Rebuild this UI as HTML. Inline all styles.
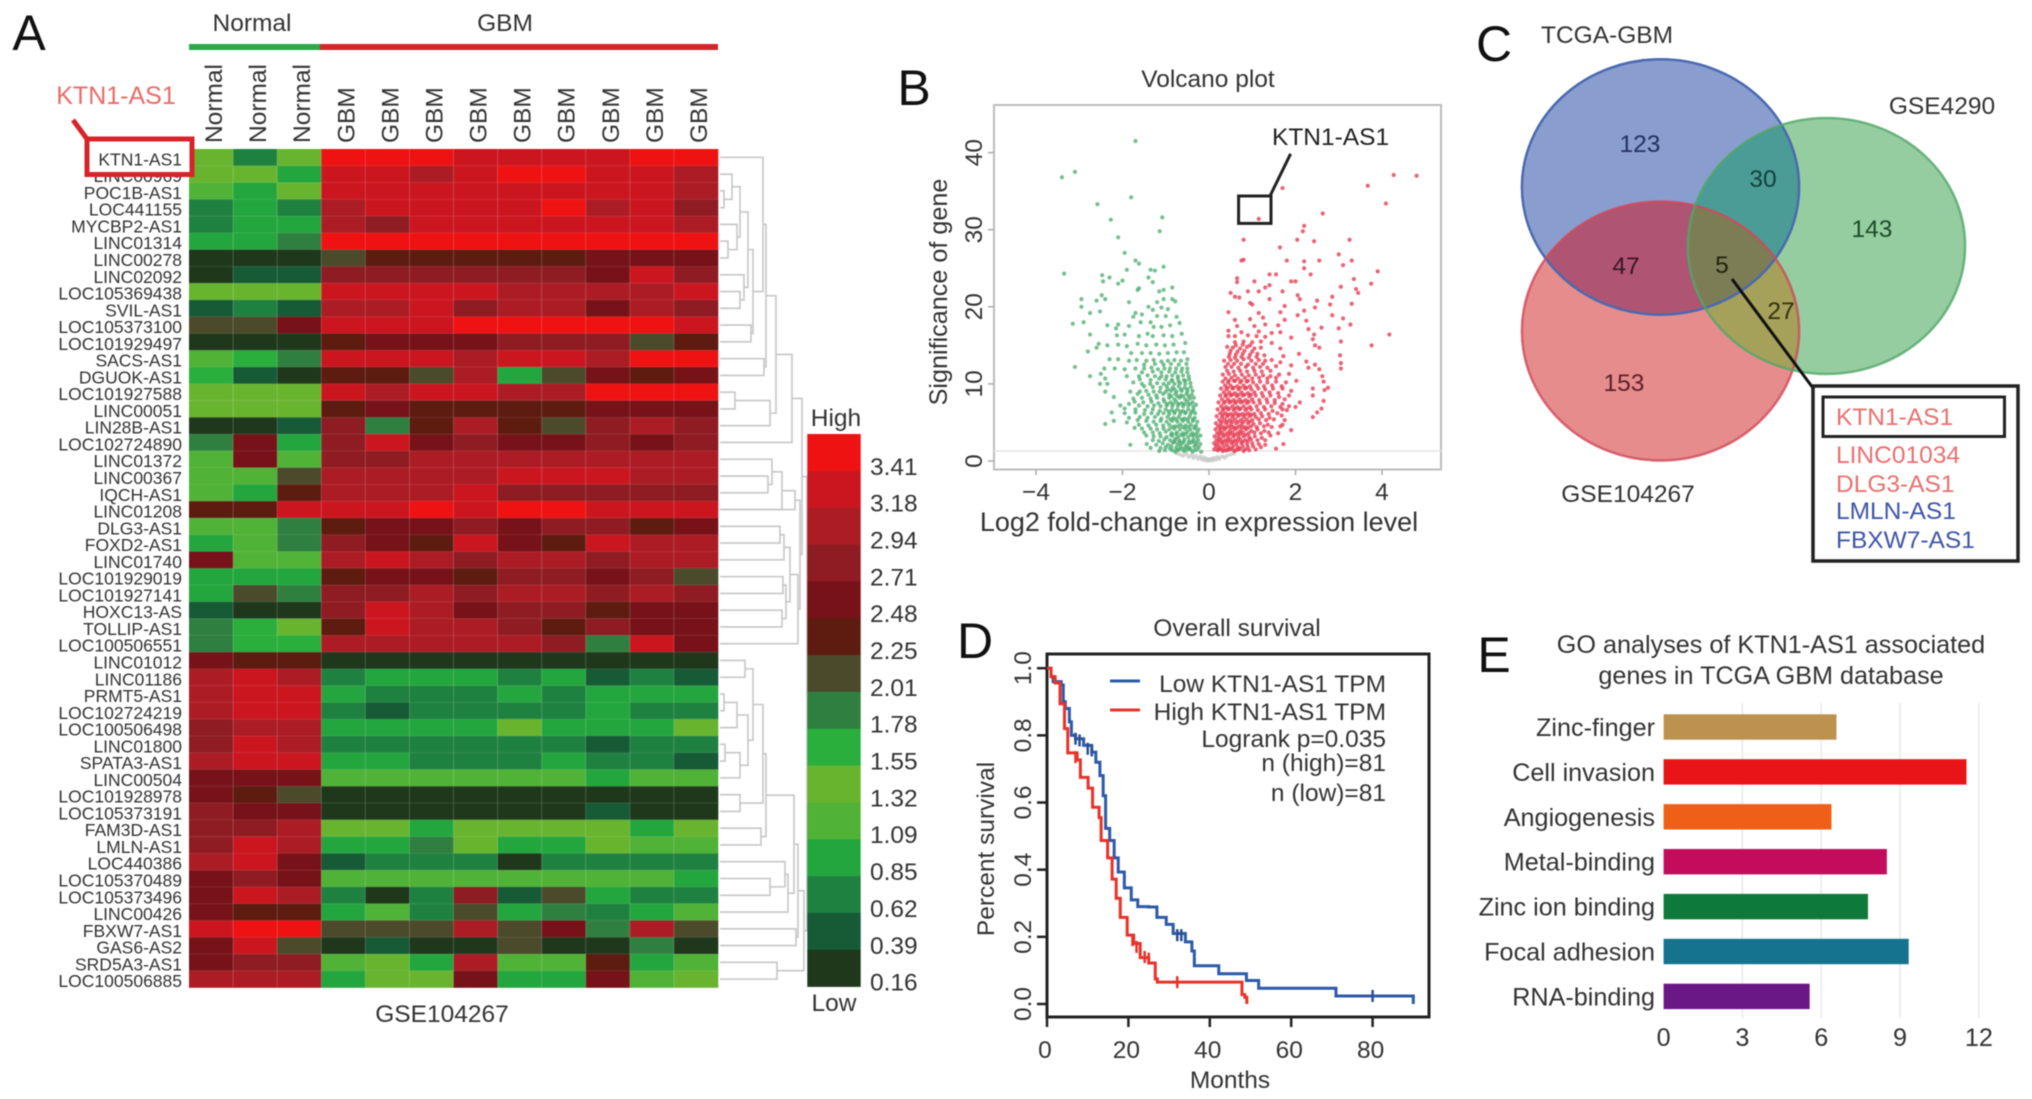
<!DOCTYPE html>
<html lang="en">
<head>
<meta charset="utf-8">
<title>KTN1-AS1 figure</title>
<style>
html,body{margin:0;padding:0;background:#fff;width:2032px;height:1099px;overflow:hidden}
svg{display:block;filter:blur(0.6px)}
text{font-family:"Liberation Sans",sans-serif;font-size:24.5px;fill:#333}
.letter{font-size:50px;fill:#111}
#panelE text{font-size:25.2px}
</style>
</head>
<body>
<svg id="fig" xmlns="http://www.w3.org/2000/svg" width="2032" height="1099" viewBox="0 0 2032 1099">
<defs>
<clipPath id="clipBlue"><ellipse cx="1660.5" cy="187" rx="138.6" ry="127.7"/></clipPath>
<clipPath id="clipRed"><ellipse cx="1660.5" cy="331" rx="138.6" ry="129.5"/></clipPath>
</defs>
<rect width="2032" height="1099" fill="#fff"/>

<text class="letter" x="29" y="50" text-anchor="middle">A</text>
<text class="letter" x="914" y="105" text-anchor="middle">B</text>
<text class="letter" x="1494" y="61" text-anchor="middle">C</text>
<text class="letter" x="975" y="658" text-anchor="middle">D</text>
<text class="letter" x="1494" y="672" text-anchor="middle">E</text>

<g id="panelA">
<text x="252" y="31" text-anchor="middle">Normal</text>
<text x="505" y="31" text-anchor="middle">GBM</text>
<rect x="189" y="44" width="131" height="6" fill="#2aa84a"/>
<rect x="320" y="44" width="398" height="6" fill="#d8232a"/>
<text x="116" y="104" text-anchor="middle" style="fill:#e86c68;font-size:25px">KTN1-AS1</text>
<line x1="73" y1="120" x2="87" y2="139" stroke="#d8232a" stroke-width="5"/>
<text x="442" y="1022" text-anchor="middle">GSE104267</text>
<text x="836" y="426" text-anchor="middle">High</text>
<text x="834" y="1011" text-anchor="middle">Low</text>
</g>

<g id="panelB">
<text x="1208" y="87" text-anchor="middle">Volcano plot</text>
<text x="1199" y="531" text-anchor="middle" style="font-size:27px">Log2 fold-change in expression level</text>
<text transform="translate(947,292) rotate(-90)" text-anchor="middle" style="font-size:25.2px">Significance of gene</text>
</g>

<g id="panelC">
<ellipse cx="1660.5" cy="187" rx="138.6" ry="127.7" fill="#8a9dcf"/>
<ellipse cx="1660.5" cy="331" rx="138.6" ry="129.5" fill="#e68c8c"/>
<ellipse cx="1826.5" cy="246" rx="138.6" ry="128" fill="#96cda0"/>
<ellipse cx="1660.5" cy="331" rx="138.6" ry="129.5" fill="#af5573" clip-path="url(#clipBlue)"/>
<ellipse cx="1826.5" cy="246" rx="138.6" ry="128" fill="#4b9b96" clip-path="url(#clipBlue)"/>
<ellipse cx="1826.5" cy="246" rx="138.6" ry="128" fill="#a5a05a" clip-path="url(#clipRed)"/>
<g clip-path="url(#clipBlue)">
<ellipse cx="1826.5" cy="246" rx="138.6" ry="128" fill="#7d7d55" clip-path="url(#clipRed)"/>
</g>
<ellipse cx="1660.5" cy="187" rx="138.6" ry="127.7" fill="none" stroke="#4a6ab0" stroke-width="2.5"/>
<ellipse cx="1660.5" cy="331" rx="138.6" ry="129.5" fill="none" stroke="#d0485a" stroke-opacity=".8" stroke-width="2.5"/>
<ellipse cx="1826.5" cy="246" rx="138.6" ry="128" fill="none" stroke="#50a868" stroke-opacity=".8" stroke-width="2.5"/>
<text x="1607" y="43" text-anchor="middle">TCGA-GBM</text>
<text x="1942" y="114" text-anchor="middle">GSE4290</text>
<text x="1628" y="502" text-anchor="middle">GSE104267</text>
<text x="1640" y="152" text-anchor="middle" style="fill:#22315e">123</text>
<text x="1763" y="187" text-anchor="middle" style="fill:#12403c">30</text>
<text x="1872" y="237" text-anchor="middle" style="fill:#1c4a28">143</text>
<text x="1626" y="274" text-anchor="middle" style="fill:#3a1525">47</text>
<text x="1722" y="273" text-anchor="middle" style="fill:#20220f">5</text>
<text x="1781" y="319" text-anchor="middle" style="fill:#33320f">27</text>
<text x="1624" y="391" text-anchor="middle" style="fill:#5c2028">153</text>
<line x1="1732" y1="279" x2="1813" y2="388" stroke="#111" stroke-width="3"/>
<rect x="1813" y="386" width="205" height="175" fill="#fff" stroke="#222" stroke-width="3.5"/>
<rect x="1823" y="397" width="181.5" height="39.5" fill="#fff" stroke="#222" stroke-width="3"/>
<text x="1836" y="425" style="fill:#e8706e">KTN1-AS1</text>
<text x="1836" y="463" style="fill:#e8706e">LINC01034</text>
<text x="1836" y="492" style="fill:#e8706e">DLG3-AS1</text>
<text x="1836" y="519" style="fill:#3f55a8">LMLN-AS1</text>
<text x="1836" y="548" style="fill:#3f55a8">FBXW7-AS1</text>
</g>

<g id="panelD">
<text x="1237" y="636" text-anchor="middle">Overall survival</text>
<text x="1230" y="1088" text-anchor="middle">Months</text>
<text transform="translate(994,849) rotate(-90)" text-anchor="middle">Percent survival</text>
<rect x="1047" y="654" width="382" height="363" fill="none" stroke="#222" stroke-width="3"/>
<line x1="1110" y1="681" x2="1140" y2="681" stroke="#2c5aa8" stroke-width="3"/>
<line x1="1110" y1="710" x2="1140" y2="710" stroke="#e8322a" stroke-width="3"/>
<text x="1386" y="692" text-anchor="end">Low KTN1-AS1 TPM</text>
<text x="1386" y="720" text-anchor="end">High KTN1-AS1 TPM</text>
<text x="1386" y="747" text-anchor="end">Logrank p=0.035</text>
<text x="1386" y="771" text-anchor="end">n (high)=81</text>
<text x="1386" y="801" text-anchor="end">n (low)=81</text>
</g>

<g id="panelE">
<text x="1771" y="653" text-anchor="middle">GO analyses of KTN1-AS1 associated</text>
<text x="1771" y="684" text-anchor="middle">genes in TCGA GBM database</text>
</g>
</svg>

<script>
/* ---------- Panel A: heatmap data ---------- */
const heatmapGenes = ["KTN1-AS1","LINC00969","POC1B-AS1","LOC441155","MYCBP2-AS1","LINC01314","LINC00278","LINC02092","LOC105369438","SVIL-AS1","LOC105373100","LOC101929497","SACS-AS1","DGUOK-AS1","LOC101927588","LINC00051","LIN28B-AS1","LOC102724890","LINC01372","LINC00367","IQCH-AS1","LINC01208","DLG3-AS1","FOXD2-AS1","LINC01740","LOC101929019","LOC101927141","HOXC13-AS","TOLLIP-AS1","LOC100506551","LINC01012","LINC01186","PRMT5-AS1","LOC102724219","LOC100506498","LINC01800","SPATA3-AS1","LINC00504","LOC101928978","LOC105373191","FAM3D-AS1","LMLN-AS1","LOC440386","LOC105370489","LOC105373496","LINC00426","FBXW7-AS1","GAS6-AS2","SRD5A3-AS1","LOC100506885"];
const heatmapSamples = ["Normal","Normal","Normal","GBM","GBM","GBM","GBM","GBM","GBM","GBM","GBM","GBM"];
const colorbarTicks = [3.41,3.18,2.94,2.71,2.48,2.25,2.01,1.78,1.55,1.32,1.09,0.85,0.62,0.39,0.16];
const heatmapValues = [
[1.32,.62,1.32,3.41,3.41,3.41,3.18,3.18,3.18,3.18,3.41,3.41],
[1.32,1.32,.85,3.18,3.18,2.94,3.18,3.41,3.41,3.18,3.18,2.94],
[1.09,.85,1.32,3.18,3.18,3.18,3.18,3.18,3.18,3.18,3.18,2.94],
[.62,.85,.62,2.94,3.18,3.18,3.18,3.18,3.41,2.94,3.18,2.71],
[.62,.85,.85,2.94,2.71,3.18,3.18,3.18,3.18,3.18,3.18,2.94],
[.85,.85,1.78,3.41,3.41,3.41,3.41,3.41,3.41,3.41,3.41,3.41],
[.16,.16,.16,2.01,2.25,2.25,2.25,2.25,2.25,2.48,2.48,2.48],
[.16,.39,.39,2.71,2.71,2.71,2.71,2.71,2.71,2.48,3.18,2.71],
[1.32,1.32,1.32,3.18,3.18,3.18,3.18,2.94,2.94,2.94,2.94,3.18],
[.39,.62,.39,2.94,2.94,3.18,2.71,2.94,2.94,2.48,2.94,2.71],
[2.01,2.01,2.48,3.18,3.18,3.18,3.41,3.41,3.41,3.41,3.41,3.18],
[.16,.16,.16,2.25,2.48,2.48,2.48,2.71,2.71,2.71,2.01,2.25],
[1.09,1.55,1.78,3.18,3.18,3.18,2.94,3.18,3.18,2.94,3.41,3.41],
[1.55,.39,.16,2.25,2.25,2.01,2.94,.85,2.01,2.48,2.25,2.48],
[1.32,1.32,1.32,3.18,2.94,3.18,3.18,2.94,2.94,3.41,3.41,3.41],
[1.32,1.32,1.32,2.25,2.48,2.25,2.25,2.25,2.25,2.48,2.48,2.48],
[.16,.16,.39,2.71,1.78,2.25,2.94,2.25,2.01,2.71,2.94,2.71],
[1.78,2.48,.85,2.71,3.18,2.48,2.71,2.48,2.48,2.71,2.48,2.71],
[1.09,2.48,1.09,2.71,2.71,2.94,2.94,2.94,2.94,2.94,2.94,2.94],
[1.09,1.09,2.01,2.94,2.94,2.94,2.94,3.18,3.18,3.18,2.94,2.94],
[1.09,.85,2.25,2.94,2.94,2.94,3.18,2.71,2.71,2.71,2.71,2.71],
[2.25,2.25,3.18,3.18,3.18,3.41,3.18,3.41,3.41,3.18,3.18,3.18],
[1.09,1.09,1.78,2.25,2.48,2.48,2.71,2.48,2.71,2.71,2.25,2.48],
[.85,1.09,1.78,2.71,2.48,2.25,3.18,2.48,2.25,3.18,2.94,2.94],
[2.48,1.09,1.09,2.94,3.18,2.94,2.71,2.94,2.94,2.71,2.94,2.94],
[.85,.85,.85,2.25,2.48,2.48,2.25,2.71,2.71,2.48,2.71,2.01],
[.85,2.01,1.78,2.71,2.71,2.94,2.71,2.94,2.94,2.71,2.94,2.71],
[.39,.16,.16,2.71,3.18,2.94,2.48,2.71,2.71,2.25,2.48,2.48],
[1.78,1.55,1.32,2.25,3.18,2.94,2.94,2.71,2.25,2.71,2.48,2.48],
[1.78,1.55,1.55,2.94,2.94,2.94,2.94,2.94,2.71,1.78,3.18,2.48],
[2.48,2.25,2.25,.16,.16,.16,.16,.16,.16,.16,.16,.16],
[2.94,3.18,2.94,.62,.85,.85,.85,.62,.85,.39,.62,.39],
[2.94,3.18,3.18,.85,.62,.62,.62,.85,.62,.85,.85,.85],
[2.94,3.18,3.18,.62,.39,.62,.62,.62,.62,.85,.62,.62],
[2.71,2.94,2.94,.85,.85,.85,.85,1.32,.85,.85,.85,1.32],
[2.71,3.18,2.94,.62,.62,.62,.62,.62,.62,.39,.62,.62],
[2.94,3.18,3.18,.85,.85,.62,.62,.62,.85,.62,.62,.39],
[2.48,2.48,2.48,1.09,1.09,1.09,1.09,1.09,1.09,.85,1.09,1.09],
[2.48,2.25,2.01,.16,.16,.16,.16,.16,.16,.16,.16,.16],
[2.71,2.48,2.48,.16,.16,.16,.16,.16,.16,.39,.16,.16],
[2.71,2.71,2.94,1.32,1.32,.85,1.32,1.32,1.32,1.32,.85,1.32],
[2.71,3.18,2.94,.85,.85,1.78,1.32,.85,.85,1.32,1.09,1.09],
[2.94,3.18,2.48,.39,.62,.62,.62,.16,.62,.62,.62,.62],
[2.48,2.71,2.48,1.09,1.09,1.09,1.09,1.09,1.09,1.09,1.09,.85],
[2.48,3.18,2.94,.62,.16,.62,2.71,.39,2.01,.85,.62,.62],
[2.48,2.25,2.25,.85,1.09,.62,2.01,.85,1.78,.62,.85,1.09],
[3.18,3.41,3.41,2.01,2.01,2.01,2.94,2.01,2.48,1.78,2.94,2.01],
[2.48,3.18,2.01,.16,.39,.16,.16,2.01,.16,.16,1.78,.16],
[2.48,2.71,2.71,1.09,1.32,.85,2.94,1.09,1.09,2.25,.85,1.09],
[2.94,2.94,2.94,.85,1.32,1.32,2.48,.85,.85,2.48,1.09,1.32]
];
const dendrogramTree = [87,
  [82,
    [72,
      [56,
        [46,
          [43,0,[33,[28,[20,[12,1,[4,2,3]],[17,4,[8,5,6]]],[24,7,[20,8,9]]],[31,10,11]]],
          [44,12,13]],
        [50,[15,14,15],16]],
      17],
    [80,
      [75,[62,[52,18,[48,19,20]],21],[9,21,21]],
      [78,[70,[64,[60,22,23],24],[66,[63,25,26],[62,27,28]]],29]]],
  [84,
    [78,
      [74,
        [46,
          [43,[33,[25,30,31],[28,[17,[4,32,33],34],[20,[5,35,36],37]]],[20,38,39]],
          [41,40,41]],
        [68,[65,42,[50,43,44]],45]],
      [76,46,47]],
    [57,48,49]]];

/* ---------- Panel B: volcano data (x = log2 FC, y = significance), flat x,y pairs ---------- */
const volcanoDownPairs = [
-1.7,41.5,-3.1,37.5,-3.4,36.8,-2.58,33.3,-1.8,34.2,-2.27,31.3,-1.08,31.6,-1.14,29.8,-2.1,29,-1.95,27,-3.35,24.3,
-1.7,26,-1.62,25.6,-1.9,24.8,-1.35,24.8,-1.25,24.7,-1.05,25.2,-1.4,23.8,-1.3,23.2,-2.47,24.1,-2.3,23.8,-2.45,23.3,-2,23.4,-2.1,23,-1.62,22.4,-1.65,22.2,-1.05,22.2,-1.15,22,-0.85,22.5,-1.05,21,
-2.6,20.8,-2.48,21.5,-2.4,21,-2.95,21,-2.95,20,-1.85,20.6,-1.2,20.6,-0.85,21,-0.78,20.7,-1.4,20,-1.3,19.6,-1.1,19.9,-0.95,19.7,-2.52,19.4,-2.75,19.2,-1.7,19.2,-1.55,19,-1.75,18.7,-1.2,18.8,-1,18.8,-0.75,18.7,
-3.15,17.8,-2.9,18,-2.35,17.6,-2.1,17.7,-2.15,17.2,-1.85,17.5,-1.58,18,-1.35,18,-1.28,17.4,-1.1,17.4,-0.9,17.6,-0.68,17.9,-2.75,16.4,-2.13,16.3,-1.95,16.4,-1.62,16.2,-1.42,16.5,-1.3,16.2,-1.05,16.3,-0.85,16.2,-0.63,16.5,
-2.55,15.2,-2.35,15,-2.1,15.1,-1.9,14.9,-1.65,15.2,-1.45,15,-1.22,15.1,-1.02,15,-0.82,15.1,-0.55,15.3,-2.8,14.2,-2.6,14.7,-1.8,14,-1.55,14,-1.35,14,-1.15,13.9,-0.95,14,-0.75,14.1,-0.58,14.1,
-2.3,13.2,-2.1,13.2,-1.85,13,-1.67,13.1,-1.45,13,-1.28,13.1,-1.1,12.9,-0.95,13,-0.8,13.1,-0.65,13,-0.5,13.2,-3.1,12.2,-2.42,12,-2.18,12,-1.95,11.9,-1.7,12,-1.5,12,-1.33,12.1,-1.18,11.9,-1.03,12,-0.9,12,-0.76,12,-0.62,12,-0.5,12,
-2.75,11,-2.5,11.3,-2.4,10.7,-1.9,11,-1.62,11,-1.42,11.1,-1.25,11,-1.1,11,-0.98,11,-0.85,11.1,-0.72,11,-0.6,11.1,-0.47,11,-2.52,10,-2.35,10,-1.75,10.2,-1.55,10,-1.36,10,-1.2,10.1,-1.05,10,-0.93,10.1,-0.8,10,-0.67,10.1,-0.55,10,-0.43,10.1,
-2.4,9,-1.82,9,-1.6,9,-1.45,9.1,-1.28,9,-1.14,9,-1,9,-0.88,9.1,-0.75,9,-0.63,9.1,-0.5,9,-0.38,9.1,-2.2,8.3,-1.75,8.1,-1.55,8.2,-1.35,8.1,-1.2,8.2,-1.05,8,-0.92,8.2,-0.8,8,-0.68,8.2,-0.55,8,-0.44,8.1,-0.35,8.2,
-2.05,7.2,-1.85,7.4,-1.62,7.2,-1.42,7.1,-1.27,7.2,-1.12,7.1,-0.98,7.2,-0.85,7.1,-0.72,7.2,-0.6,7.1,-0.48,7.2,-0.36,7,-0.3,7.3,-2.25,6.3,-1.95,6.2,-1.7,6.3,-1.5,6.1,-1.33,6.2,-1.18,6.1,-1.05,6.2,-0.92,6.1,-0.8,6.2,-0.67,6.1,-0.55,6.2,-0.43,6.1,-0.32,6.2,
-2.2,5.2,-1.9,5,-1.65,5.3,-1.45,5.2,-1.28,5.1,-1.12,5.2,-0.98,5.1,-0.85,5.2,-0.73,5.1,-0.6,5.2,-0.48,5.1,-0.37,5.2,-0.27,5.1,-2.4,4.8,-1.72,4.3,-1.55,4.2,-1.35,4.2,-1.2,4.1,-1.05,4.2,-0.92,4.1,-0.8,4.2,-0.67,4.1,-0.55,4.2,-0.43,4.1,-0.32,4.2,-0.24,4.1,
-1.45,3.3,-1.28,3.2,-1.12,3.2,-0.98,3.1,-0.85,3.3,-0.72,3.1,-0.6,3.3,-0.48,3.1,-0.37,3.3,-0.27,3.1,-0.2,3.3,-1.82,2.1,-1.44,2.2,-1.22,2.1,-1.07,2.3,-0.95,2.1,-0.83,2.4,-0.73,2.1,-0.62,2.3,-0.52,2,-0.41,2.4,-0.3,2.1,-0.2,2.2,
-1.35,1.7,-1.15,1.3,-1.02,1.4,-0.9,1.6,-0.78,1.2,-0.69,1.5,-0.58,1.3,-0.47,1.6,-0.38,1.2,-0.27,1.5,-0.18,1.2,
-0.24,1.8,-0.34,1.9,-0.45,1.7,-0.55,1.8,-0.66,1.9,-0.76,1.7,-0.87,1.9,-1,1.8,-1.12,1.7,
-0.25,2.7,-0.36,2.8,-0.46,2.6,-0.57,2.8,-0.68,2.6,-0.78,2.8,-0.9,2.7,-1.03,2.8,-1.16,2.6,-1.3,2.7,
-0.27,3.7,-0.38,3.6,-0.5,3.8,-0.6,3.6,-0.74,3.7,-0.86,3.6,-1,3.8,-1.14,3.6,-1.3,3.7,-1.5,3.7,
-0.3,4.6,-0.42,4.7,-0.54,4.6,-0.66,4.7,-0.79,4.5,-0.92,4.7,-1.06,4.6,-1.22,4.7,-1.4,4.6,-1.62,4.7,
-0.33,5.6,-0.45,5.7,-0.57,5.5,-0.7,5.7,-0.82,5.6,-0.96,5.7,-1.1,5.5,-1.25,5.7,-1.42,5.6,-1.6,5.7,-1.85,5.6,
-0.36,6.6,-0.48,6.7,-0.6,6.5,-0.73,6.7,-0.86,6.6,-1,6.7,-1.14,6.5,-1.3,6.7,-1.48,6.6,-1.7,6.7,-1.95,6.8,
-0.38,7.6,-0.5,7.7,-0.63,7.5,-0.76,7.7,-0.89,7.6,-1.03,7.7,-1.17,7.5,-1.33,7.7,-1.52,7.6,-1.72,7.7,
-0.4,8.6,-0.52,8.7,-0.65,8.5,-0.78,8.7,-0.92,8.6,-1.06,8.7,-1.22,8.5,-1.4,8.6,-1.65,8.7,
-0.42,9.6,-0.56,9.5,-0.7,9.7,-0.84,9.5,-0.98,9.7,-1.12,9.5,-1.3,9.6,-1.5,9.7,
-0.46,10.6,-0.58,10.5,-0.72,10.7,-0.86,10.5,-1,10.6,-1.15,10.7,-1.35,10.5,-1.6,10.6,
-0.5,11.5,-0.64,11.6,-0.78,11.5,-0.92,11.6,-1.1,11.5,-1.3,11.6,-1.55,11.5,
-0.52,12.6,-0.7,12.5,-0.88,12.6,-1.05,12.5,-1.25,12.6,-1.5,12.5,
-0.33,1.4,-0.43,1.5,-0.53,1.4,-0.63,1.6,-0.73,1.4,-0.85,1.4,-0.29,2.4,-0.36,2.5,-0.47,2.3,-0.58,2.5,-0.68,2.4,-0.8,2.5,-0.31,3.4,-0.42,3.4,-0.54,3.5,-0.65,3.4,-0.76,3.5,-0.88,3.4,-0.34,4.4,-0.47,4.4,-0.6,4.4,-0.72,4.5,-0.85,4.4,-0.37,5.4,-0.5,5.4,-0.63,5.4,-0.76,5.4,-0.89,5.4,-0.4,6.4,-0.54,6.3,-0.66,6.4,-0.79,6.4,-0.93,6.4,-0.43,7.4,-0.57,7.4,-0.7,7.4,-0.83,7.4,-0.96,7.4,-0.47,8.4,-0.6,8.4,-0.73,8.4,-0.87,8.4,-0.5,9.3,-0.65,9.3,-0.8,9.3,-0.95,9.3,-0.55,10.4,-0.7,10.3,-0.85,10.4
];
const volcanoUpPairs = [
4.8,37,4.27,37.1,3.67,35.7,1.7,35.4,4.09,33.4,2.63,32.1,1.15,31.4,2.2,30.5,2.17,29.8,0.8,28.7,2.04,28.7,3.25,28.7,2.43,28.5,1.64,27.7,
3,26.8,3.3,26,1.8,26,0.8,26.1,0.75,26,2.2,25.9,2.55,26,3.1,25.4,2.2,25,3.9,24.6,1.4,24.2,1.55,24.2,2.35,24.2,0.65,23.7,0.65,23.2,1.05,23.3,1.9,23.3,2,23.3,3.35,23.6,3.75,23,
1.4,22.8,1.3,22.5,3.05,22.6,3.4,22.3,0.5,21.8,0.9,22,1.15,22,1.7,22,2.05,21.5,3.45,21.8,2.85,21.3,0.6,21.3,0.7,21.2,1.4,21,2.1,21,2.5,20.8,2.8,20.3,3.3,20.4,0.95,20.5,1,20.3,1.75,20.1,2.45,19.9,2.2,19.5,
0.45,19.3,1.15,19.2,1.65,19.3,2.05,18.9,2.85,18.9,3.1,18.5,0.6,18.3,0.95,18.4,1.25,18.6,1.75,18.3,2.25,18.2,3.27,17.7,0.65,17.5,1.05,17.5,1.3,17.7,1.6,17.6,2.3,17.1,2.6,17.3,3,17.2,
0.45,16.9,0.75,16.7,1.15,16.8,1.45,16.6,1.65,16.7,2.43,16.4,4.17,16.4,0.45,16.2,0.6,16.2,0.9,16.3,1.1,16.2,1.3,16.1,1.9,16,2.4,15.8,0.6,15.4,0.8,15.5,1,15.4,1.2,15.5,1.45,15.3,2.45,15,3.76,15,3.05,15.5,
0.42,14.8,0.55,14.7,0.72,14.6,0.88,14.8,1.05,14.6,1.2,14.7,1.65,14.6,2.55,14.7,0.48,13.9,0.62,13.8,0.78,13.9,0.95,13.8,1.12,13.9,1.28,13.7,1.72,13.6,2.08,13.9,3.03,13.7,
0.35,13,0.5,13.1,0.65,13,0.8,13.2,0.98,13,1.15,13.1,1.3,13,1.45,13.1,1.65,12.8,2.25,12.9,2.45,12.5,3.05,12.7,0.38,12.2,0.52,12.2,0.68,12.1,0.85,12.2,1.02,12.1,1.18,12.2,1.35,12.1,1.55,12.3,1.9,12.4,2.3,12.1,2.55,11.9,3.05,12,
0.32,11.2,0.46,11.3,0.6,11.1,0.76,11.2,0.92,11.1,1.08,11.2,1.25,11.1,1.42,11,1.62,11.2,1.85,11.3,2.62,11,0.32,10.3,0.44,10.2,0.58,10.4,0.72,10.2,0.87,10.3,1.02,10.2,1.18,10.3,1.35,10.2,1.55,10.3,1.78,10.2,2.02,10.4,2.65,10.3,
0.28,9.4,0.4,9.3,0.54,9.4,0.68,9.3,0.83,9.4,0.98,9.3,1.14,9.4,1.3,9.3,1.48,9.4,1.7,9.4,1.9,9.1,2.4,9.4,2.67,9.2,2.75,9.5,0.26,8.5,0.38,8.4,0.5,8.5,0.64,8.4,0.78,8.5,0.93,8.4,1.08,8.5,1.25,8.4,1.42,8.5,1.62,8.3,1.85,8.5,2.4,8.5,
0.22,7.6,0.34,7.5,0.47,7.6,0.6,7.5,0.73,7.6,0.88,7.5,1.03,7.6,1.18,7.5,1.35,7.6,1.52,7.5,1.7,7.4,2.1,7.6,2.65,7.8,0.2,6.7,0.32,6.6,0.44,6.7,0.57,6.6,0.7,6.7,0.84,6.6,0.98,6.7,1.13,6.6,1.3,6.7,1.47,6.5,1.7,6.7,1.8,6.6,2,7,2.6,6.8,
0.18,5.8,0.3,5.7,0.42,5.8,0.54,5.7,0.67,5.8,0.8,5.7,0.94,5.8,1.08,5.7,1.23,5.8,1.4,5.6,1.68,5.9,2.4,5.7,2.5,6.3,0.16,4.9,0.27,4.8,0.39,4.9,0.51,4.8,0.63,4.9,0.76,4.8,0.9,4.9,1.03,4.8,1.18,4.9,1.36,4.7,1.7,4.7,
0.15,4.1,0.25,4,0.36,4.1,0.48,3.9,0.6,4.1,0.72,3.9,0.85,4.1,0.98,3.9,1.12,4.1,1.28,3.9,1.9,4,0.13,3.2,0.22,3.1,0.33,3.2,0.44,3.1,0.56,3.2,0.68,3.1,0.8,3.2,0.93,3.1,1.06,3.2,1.22,3,1.42,3.3,
0.12,2.3,0.2,2.2,0.3,2.3,0.41,2.2,0.52,2.3,0.63,2.2,0.75,2.3,0.88,2.2,1,2.3,1.15,2.2,1.3,2.1,1.72,2.2,0.12,1.5,0.2,1.4,0.29,1.5,0.38,1.4,0.48,1.5,0.58,1.3,0.68,1.5,0.8,1.3,0.93,1.4,1.08,1.5,1.55,1.6,
0.16,1.9,0.25,1.8,0.35,1.9,0.45,1.8,0.56,1.9,0.67,1.8,0.78,1.9,0.9,1.8,1.02,1.9,1.2,1.8,
0.17,2.7,0.27,2.8,0.38,2.7,0.49,2.8,0.6,2.7,0.72,2.8,0.84,2.7,0.97,2.8,1.12,2.7,1.3,2.7,
0.19,3.6,0.3,3.7,0.42,3.6,0.54,3.7,0.66,3.6,0.78,3.7,0.92,3.6,1.05,3.7,1.2,3.6,1.38,3.7,1.6,3.6,
0.21,4.5,0.33,4.4,0.45,4.5,0.57,4.4,0.7,4.5,0.83,4.4,0.97,4.5,1.1,4.4,1.27,4.5,1.45,4.4,1.65,4.5,
0.24,5.3,0.36,5.4,0.48,5.3,0.6,5.4,0.74,5.3,0.87,5.4,1,5.3,1.15,5.4,1.32,5.3,1.5,5.4,1.75,5.3,
0.26,6.2,0.38,6.2,0.5,6.1,0.63,6.2,0.77,6.1,0.91,6.2,1.05,6.1,1.2,6.2,1.38,6.1,1.58,6.2,
0.28,7.1,0.4,7,0.54,7.1,0.66,7,0.8,7.1,0.95,7,1.1,7.1,1.27,7,1.44,7.1,1.65,7,1.85,7.1,
0.3,8,0.44,8,0.57,7.9,0.71,8,0.85,7.9,1,8,1.16,7.9,1.33,8,1.52,7.9,1.75,8,
0.34,8.9,0.47,8.9,0.6,8.8,0.75,8.9,0.9,8.8,1.05,8.9,1.22,8.8,1.4,8.9,1.6,8.8,
0.37,9.8,0.5,9.8,0.65,9.7,0.8,9.8,0.95,9.7,1.1,9.8,1.27,9.7,1.46,9.8,1.68,9.7,
0.38,10.7,0.52,10.8,0.67,10.7,0.83,10.8,1,10.7,1.16,10.8,1.35,10.7,1.55,10.8,
0.42,11.7,0.57,11.6,0.72,11.7,0.88,11.6,1.05,11.7,1.22,11.6,1.42,11.7,
0.44,12.6,0.58,12.6,0.74,12.6,0.9,12.5,1.08,12.6,1.25,12.6,
0.46,13.5,0.6,13.4,0.75,13.5,0.92,13.4,1.1,13.5,
0.5,14.3,0.66,14.2,0.82,14.3,1,14.2,
0.62,15,0.78,15.1,0.95,15,
0.22,1.5,0.32,1.3,0.42,1.4,0.52,1.6,0.62,1.4,0.72,1.6,0.84,1.5,0.23,2.6,0.33,2.5,0.44,2.6,0.55,2.5,0.66,2.6,0.78,2.5,0.9,2.6,0.25,3.5,0.36,3.4,0.48,3.5,0.6,3.4,0.72,3.5,0.85,3.4,0.27,4.3,0.39,4.3,0.51,4.3,0.64,4.3,0.76,4.3,0.9,4.3,0.3,5.1,0.42,5.1,0.54,5.1,0.67,5.1,0.8,5.1,0.94,5.1,0.32,6,0.44,6,0.57,6,0.7,6,0.84,6,0.98,6,0.34,6.8,0.47,6.8,0.6,6.8,0.73,6.8,0.88,6.8,0.37,7.7,0.5,7.7,0.64,7.7,0.78,7.7,0.92,7.7,0.4,8.6,0.54,8.6,0.68,8.6,0.82,8.6,0.97,8.6,0.43,9.5,0.57,9.5,0.72,9.5,0.87,9.5,0.46,10.4,0.6,10.4,0.75,10.4,0.9,10.4
];
const volcanoNeutralPairs = [
-0.75,1,-0.68,0.85,-0.6,0.7,-0.52,0.9,-0.47,0.55,-0.4,0.75,-0.36,0.4,-0.3,0.65,-0.25,0.3,-0.2,0.55,-0.16,0.2,-0.12,0.45,-0.09,0.1,-0.06,0.3,-0.03,0.05,0,0.2,0.03,0.08,0.06,0.3,0.09,0.1,0.12,0.4,0.16,0.2,0.2,0.5,0.24,0.3,0.3,0.6,0.36,0.45,0.42,0.7,0.5,0.85,0.58,0.95,-0.8,2.9,-0.85,2.4,-0.75,2.5,-0.7,2.9
];
const volcanoXTicks = [-4,-2,0,2,4];
const volcanoYTicks = [0,10,20,30,40];

/* ---------- Panel D: survival data ---------- */
const survivalXTicks = [0,20,40,60,80];
const survivalYTicks = [0,0.2,0.4,0.6,0.8,1];
const lowMonths   = [0,1,1.5,3.5,4,4.5,5.5,6,7,9,11,12,13,13.8,14.4,15.4,16.5,17.5,19,20.7,22.3,25,27,29.3,31,34,35.6,36.2,42.2,49,52,71,90];
const lowSurvival = [1,.975,.96,.95,.9,.88,.84,.8,.79,.77,.75,.72,.68,.62,.523,.487,.435,.393,.346,.31,.29,.289,.258,.237,.21,.185,.158,.114,.09,.07,.047,.024,0];
const highMonths   = [0,1,2,3.2,4.3,5.1,7.4,8.2,10.1,11.2,12.8,13.3,14.9,16,17,18,19.7,21.3,22.9,25,26.6,27.1,47.9,48.6,49.1];
const highSurvival = [1,.975,.956,.894,.82,.748,.727,.675,.643,.586,.555,.487,.435,.372,.315,.258,.205,.18,.138,.122,.075,.065,.028,.02,0];
const lowCensorMonths = [7,8,10,11,32,33,80];
const lowCensorSurvival = [.79,.785,.76,.755,.205,.205,.024];
const highCensorMonths = [7,21,22,24,25,32];
const highCensorSurvival = [.735,.19,.17,.14,.135,.065];

/* ---------- Panel E: GO bar data ---------- */
const goTerms = ["Zinc-finger","Cell invasion","Angiogenesis","Metal-binding","Zinc ion binding","Focal adhesion","RNA-binding"];
const goValues = [6.58,11.53,6.39,8.5,7.78,9.33,5.56];
const goTicks = [0,3,6,9,12];

/* ---------- helpers ---------- */
const NS = "http://www.w3.org/2000/svg";
function mk(parent, tag, attrs, content){
  const el = document.createElementNS(NS, tag);
  for (const k in attrs) el.setAttribute(k, attrs[k]);
  if (content !== undefined) el.textContent = content;
  parent.appendChild(el);
  return el;
}
const panelA = document.getElementById("panelA");
const panelB = document.getElementById("panelB");
const panelD = document.getElementById("panelD");
const panelE = document.getElementById("panelE");

/* ---------- Panel A draw ---------- */
const heatLeft = 189, heatRight = 718, heatTop = 149, heatBottom = 987.5;
const heatPalette = ["#ee1212","#cb1620","#ac1c24","#8e1c22","#761218","#5e1b10","#4b4a2a","#2f8040","#2aae3c","#68b42f","#50b236","#24a63e","#1f8140","#165a36","#1f381c"];
const cellW = (heatRight - heatLeft) / heatmapSamples.length;
const cellH = (heatBottom - heatTop) / heatmapGenes.length;
function heatColumnX(i){ return heatLeft + i * cellW; }
function heatRowY(i){ return heatTop + i * cellH; }
function heatColor(v){
  let best = 0;
  colorbarTicks.forEach(function(t, i){ if (Math.abs(t - v) < Math.abs(colorbarTicks[best] - v)) best = i; });
  return heatPalette[best];
}
heatmapValues.forEach(function(row, r){
  row.forEach(function(v, c){
    const cell = mk(panelA, "rect", {x: heatColumnX(c), y: heatRowY(r), width: cellW + .3, height: cellH + .3, fill: heatColor(v)});
    
    
  });
});
for (let c = 1; c < heatmapSamples.length; c++){
  const gridV = mk(panelA, "line", {x1: heatColumnX(c), x2: heatColumnX(c), y1: heatTop, y2: heatBottom, stroke: "#fff", "stroke-opacity": .18, "stroke-width": 1});
  
  
}
for (let r = 1; r < heatmapGenes.length; r++){
  const gridH = mk(panelA, "line", {x1: heatLeft, x2: heatRight, y1: heatRowY(r), y2: heatRowY(r), stroke: "#fff", "stroke-opacity": .1, "stroke-width": 1});
  
  
}
heatmapSamples.forEach(function(s, i){
  const bx = heatColumnX(i) + cellW / 2 + 11;
  const lbl = mk(panelA, "text", {x: bx, y: 143, transform: "rotate(-90 " + bx + " 143)"}, s);
  
  
});
const geneLabels = heatmapGenes.map(function(g, i){
  const lbl = mk(panelA, "text", {x: 182, y: heatRowY(i) + cellH / 2 + 8, "text-anchor": "end", style: "font-size:17.5px"}, g);
  
  
  return lbl;
});
const hiBox = mk(panelA, "rect", {x: 87, y: 139, width: 105, height: 35.5, fill: "#fff", stroke: "#d8232a", "stroke-width": 5});


panelA.appendChild(geneLabels[0]);

function drawDendro(node){
  if (typeof node === "number") return {y: heatRowY(node) + cellH / 2, h: 0};
  const a = drawDendro(node[1]), b = drawDendro(node[2]);
  const x = heatRight + 2 + node[0];
  const d = "M" + (heatRight + 2 + a.h) + " " + a.y + "H" + x + "V" + b.y + "H" + (heatRight + 2 + b.h);
  const seg = mk(panelA, "path", {d: d, fill: "none", stroke: "#c6c6c6", "stroke-width": 1.6});
  
  
  return {y: (a.y + b.y) / 2, h: node[0]};
}
drawDendro(dendrogramTree);

const barTop = 434, barBottom = 986.6, barStep = (barBottom - barTop) / colorbarTicks.length;
colorbarTicks.forEach(function(t, i){
  const seg = mk(panelA, "rect", {x: 807.3, y: barTop + i * barStep, width: 53.4, height: barStep + .3, fill: heatColor(t)});
  
  
  const lbl = mk(panelA, "text", {x: 870, y: barTop + (i + 1) * barStep + 4}, t.toFixed(2));
  
  
});

/* ---------- Panel B draw ---------- */
function volX(v){ return 1209 + v * 43.25; }
function volY(v){ return 461 - v * 7.71; }
const volFrame = mk(panelB, "rect", {x: 994, y: 105, width: 447, height: 364.5, fill: "#fff", stroke: "#bdbdbd", "stroke-width": 2});


const volThreshold = mk(panelB, "line", {x1: 994, x2: 1441, y1: volY(1.3), y2: volY(1.3), stroke: "#e4e4e4", "stroke-width": 1.5});


function drawVolcano(pairs, color, name){
  for (let i = 0; i + 1 < pairs.length; i += 2){
    const dot = mk(panelB, "circle", {cx: volX(pairs[i]), cy: volY(pairs[i + 1]), r: 2.1, fill: color, "fill-opacity": .78});
    
    
  }
}
drawVolcano(volcanoNeutralPairs, "#c8c8c8", 'volcano-point-neutral');
drawVolcano(volcanoDownPairs, "#4fae72", 'volcano-point-down');
drawVolcano(volcanoUpPairs, "#e5384f", 'volcano-point-up');
volcanoXTicks.forEach(function(t){
  const tick = mk(panelB, "line", {x1: volX(t), x2: volX(t), y1: 469.5, y2: 475, stroke: "#aaa", "stroke-width": 1.5});
  
  
  const lbl = mk(panelB, "text", {x: volX(t), y: 500, "text-anchor": "middle"}, t < 0 ? "\u2212" + Math.abs(t) : String(t));
  
  
});
volcanoYTicks.forEach(function(t){
  const tick = mk(panelB, "line", {x1: 988, x2: 994, y1: volY(t), y2: volY(t), stroke: "#aaa", "stroke-width": 1.5});
  
  
  const lbl = mk(panelB, "text", {transform: "translate(982," + volY(t) + ") rotate(-90)", "text-anchor": "middle"}, String(t));
  
  
});
const volBox = mk(panelB, "rect", {x: 1238.6, y: 196, width: 32.4, height: 27.4, fill: "none", stroke: "#222", "stroke-width": 3});


const volLine = mk(panelB, "line", {x1: 1270, y1: 196, x2: 1290.6, y2: 153.8, stroke: "#222", "stroke-width": 3});


const volLabel = mk(panelB, "text", {x: 1272, y: 145, style: "fill:#222"}, "KTN1-AS1");



/* ---------- Panel D draw ---------- */
function survX(m){ return 1047 + m * 4.07; }
function survY(s){ return 1004 - s * 335.8; }
survivalXTicks.forEach(function(t){
  const tick = mk(panelD, "line", {x1: survX(t), x2: survX(t), y1: 1017, y2: 1027, stroke: "#222", "stroke-width": 2.5});
  
  
  const lbl = mk(panelD, "text", {x: survX(t) - 2, y: 1058, "text-anchor": "middle"}, String(t));
  
  
});
survivalYTicks.forEach(function(t){
  const tick = mk(panelD, "line", {x1: 1037, x2: 1047, y1: survY(t), y2: survY(t), stroke: "#222", "stroke-width": 2.5});
  
  
  const lbl = mk(panelD, "text", {transform: "translate(1031," + survY(t) + ") rotate(-90)", "text-anchor": "middle"}, t.toFixed(1));
  
  
});
function stepPath(ms, ss){
  let d = "M" + survX(ms[0]) + " " + survY(ss[0]);
  for (let i = 1; i < ms.length; i++) d += "H" + survX(ms[i]) + "V" + survY(ss[i]);
  return d;
}
const lowCurve = mk(panelD, "path", {d: stepPath(lowMonths, lowSurvival), fill: "none", stroke: "#2c5aa8", "stroke-width": 3});


const highCurve = mk(panelD, "path", {d: stepPath(highMonths, highSurvival), fill: "none", stroke: "#e8322a", "stroke-width": 3});


function drawCensors(ms, ss, color, name){
  ms.forEach(function(m, i){
    const tick = mk(panelD, "line", {x1: survX(m), x2: survX(m), y1: survY(ss[i]) - 6, y2: survY(ss[i]) + 6, stroke: color, "stroke-width": 2.5});
    
    
  });
}
drawCensors(lowCensorMonths, lowCensorSurvival, "#2c4f90", 'censor-mark-low');
drawCensors(highCensorMonths, highCensorSurvival, "#e8322a", 'censor-mark-high');

/* ---------- Panel E draw ---------- */
function goX(v){ return 1663.6 + v * 26.27; }
function goY(i){ return 727 + i * 44.9; }
const goColors = ["#bd924f","#e81418","#f05f17","#c30d5c","#0e7a3a","#14748f","#6a1885"];
goTicks.forEach(function(t){
  if (t > 0){
    const grid = mk(panelE, "line", {x1: goX(t), x2: goX(t), y1: 703, y2: 1018, stroke: "#eeeeee", "stroke-width": 2});
    
    
  }
  const lbl = mk(panelE, "text", {x: goX(t), y: 1046, "text-anchor": "middle"}, String(t));
  
  
});
goTerms.forEach(function(term, i){
  const bar = mk(panelE, "rect", {x: goX(0), y: goY(i) - 12.7, width: goX(goValues[i]) - goX(0), height: 25.4, fill: goColors[i]});
  
  
  const lbl = mk(panelE, "text", {x: 1655, y: goY(i) + 9, "text-anchor": "end"}, term);
  
  
});
</script>
</body>
</html>
